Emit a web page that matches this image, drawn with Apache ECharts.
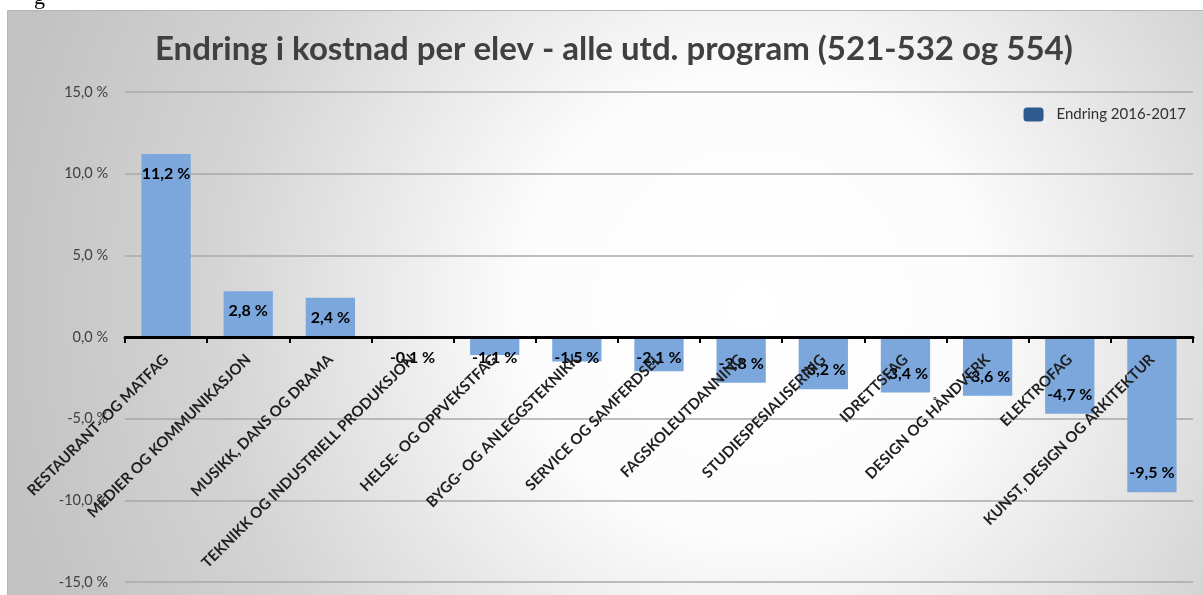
<!DOCTYPE html>
<html>
<head>
<meta charset="utf-8">
<script src="https://cdn.jsdelivr.net/npm/echarts@6/dist/echarts.min.js"></script>
<style>
  html, body { margin: 0; padding: 0; background: #ffffff; }
  #chart { width: 1203px; height: 595px; }
</style>
</head>
<body>
<div id="chart"></div>
<script>
const categories = [
  'RESTAURANT- OG MATFAG',
  'MEDIER OG KOMMUNIKASJON',
  'MUSIKK, DANS OG DRAMA',
  'TEKNIKK OG INDUSTRIELL PRODUKSJON',
  'HELSE- OG OPPVEKSTFAG',
  'BYGG- OG ANLEGGSTEKNIKK',
  'SERVICE OG SAMFERDSEL',
  'FAGSKOLEUTDANNING',
  'STUDIESPESIALISERING',
  'IDRETTSFAG',
  'DESIGN OG HÅNDVERK',
  'ELEKTROFAG',
  'KUNST, DESIGN OG ARKITEKTUR'
];
const seriesName = 'Endring 2016-2017';
const values = [11.2, 2.8, 2.4, -0.1, -1.1, -1.5, -2.1, -2.8, -3.2, -3.4, -3.6, -4.7, -9.5];
const yTicks = { min: -15, max: 15, interval: 5 };
const titleText = 'Endring i kostnad per elev - alle utd. program (521-532 og 554)';

const fmt = v => v.toFixed(1).replace('.', ',') + ' %';
const FONT = 'Lato, "Open Sans", sans-serif';

const barData = values.map(v => {
  let position, distance;
  if (v >= 0) { position = 'insideTop'; distance = 12; }
  else if (v > -2.5) { position = 'insideTop'; distance = 13; }
  else { position = 'insideBottom'; distance = 11; }
  return { value: v, label: { position: position, distance: distance } };
});

const chart = echarts.init(document.getElementById('chart'), null, { renderer: 'canvas' });
chart.setOption({
  backgroundColor: '#ffffff',
  animation: false,
  graphic: [
    {
      type: 'rect', z: -100, silent: true,
      shape: { x: 7.5, y: 10.5, width: 1200, height: 590 },
      style: {
        fill: {
          type: 'radial', x: 0.62, y: 0.5, r: 1.3,
          colorStops: [
            { offset: 0, color: '#ffffff' },
            { offset: 0.3, color: '#fcfcfc' },
            { offset: 0.7, color: '#d4d4d4' },
            { offset: 1, color: '#c2c2c2' }
          ]
        },
        stroke: '#b5b5b5', lineWidth: 1
      }
    },
    {
      type: 'text', z: 10, silent: true, left: 34, top: -13,
      style: { text: 'g', font: '22px "Liberation Serif", serif', fill: '#000' }
    }
  ],
  title: {
    text: titleText,
    left: 150,
    top: 28,
    textStyle: { fontFamily: FONT, fontWeight: 'bold', fontSize: 33, color: '#404040' }
  },
  legend: {
    data: [{ name: seriesName, itemStyle: { color: '#2f5a8f' } }],
    right: 12, top: 102,
    itemWidth: 20, itemHeight: 14, itemGap: 10,
    textStyle: { fontFamily: FONT, fontSize: 15, color: '#303030', padding: [0, 0, 0, 8] }
  },
  grid: { left: 125, right: 10, top: 92, bottom: 13, containLabel: false, outerBoundsMode: 'none' },
  xAxis: {
    type: 'category',
    data: categories,
    z: 10,
    axisLine: { onZero: false, lineStyle: { color: '#000000', width: 3 } },
    axisTick: { show: true, length: 6, lineStyle: { color: '#000000', width: 2 } },
    axisLabel: {
      rotate: 45, interval: 0, margin: 20,
      fontFamily: FONT, fontWeight: 'bold', fontSize: 15, color: '#1f1f1f'
    },
    splitLine: { show: false }
  },
  yAxis: {
    type: 'value',
    min: yTicks.min, max: yTicks.max, interval: yTicks.interval,
    axisLine: { show: false },
    axisTick: { show: false },
    axisLabel: { formatter: fmt, fontFamily: FONT, fontSize: 14.5, color: '#404040', margin: 17 },
    splitLine: { lineStyle: { color: '#a8a8a8', width: 1.5 } }
  },
  series: [{
    name: seriesName,
    type: 'bar',
    data: barData,
    barCategoryGap: '40%',
    itemStyle: { color: '#7ba7dc' },
    label: {
      show: true,
      formatter: p => fmt(p.value),
      fontFamily: FONT, fontWeight: 'bold', fontSize: 16, color: '#000000'
    }
  }]
});

// Move the category axis (line, ticks, labels) up to the zero line of the value scale.
const zeroY = chart.convertToPixel({ yAxisIndex: 0 }, 0);
const bottomY = chart.convertToPixel({ yAxisIndex: 0 }, yTicks.min);
chart.setOption({ xAxis: { offset: -(bottomY - zeroY) } });
</script>
</body>
</html>
